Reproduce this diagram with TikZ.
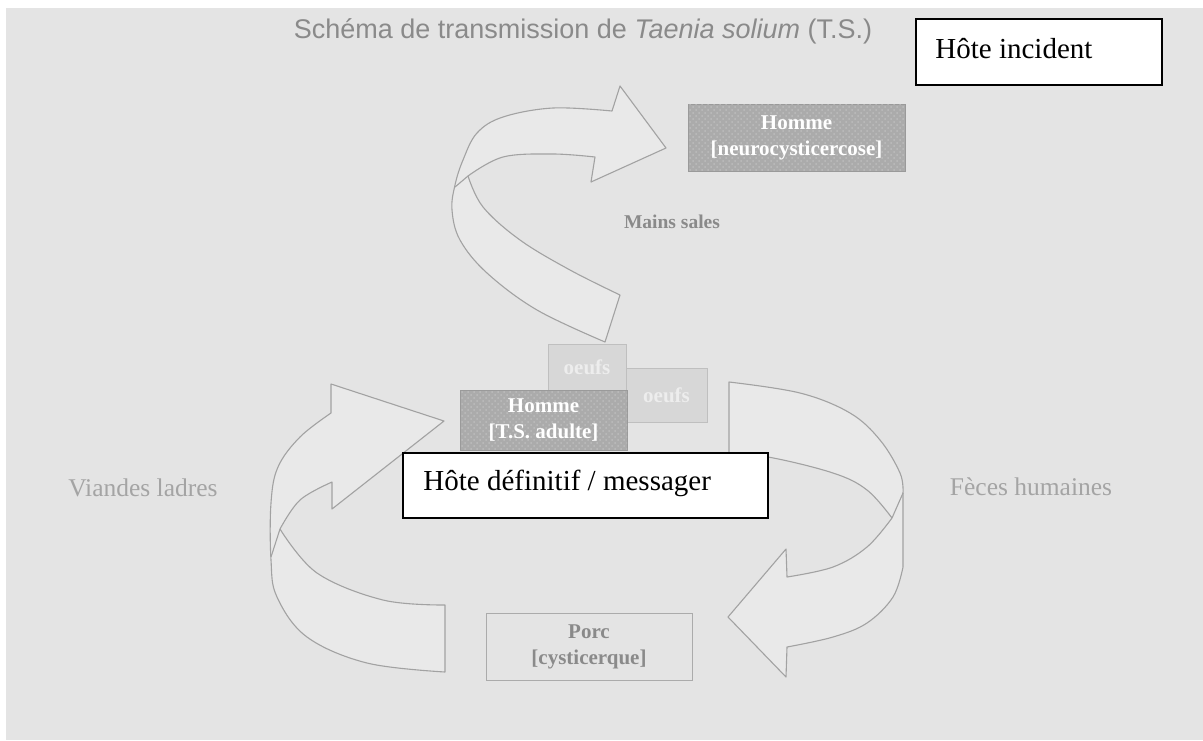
\documentclass[tikz,border=0pt]{standalone}
\usepackage{fontspec}
\setmainfont{Liberation Serif}
\newfontfamily\titresans{Liberation Sans}
\usetikzlibrary{patterns}
\definecolor{fond}{HTML}{E4E4E4}
\definecolor{trait}{HTML}{A2A2A2}
\definecolor{ruban}{HTML}{E9E9E9}
\definecolor{gristxt}{HTML}{8A8A8A}
\definecolor{clairtxt}{HTML}{A4A4A4}
\definecolor{hommegris}{HTML}{ABABAB}
\definecolor{pointgris}{HTML}{BDBDBD}
\definecolor{oeufgris}{HTML}{D7D7D7}
\tikzset{
  fleche/.style={draw=trait, fill=ruban, line width=0.55pt, line join=round},
  pli/.style={draw=trait, line width=0.55pt},
  hote/.style={draw=black, line width=1pt, fill=white},
  hotetxt/.style={font=\fontsize{14.5}{17}\selectfont, anchor=base west, inner sep=0pt},
  boitetxt/.style={font=\fontsize{10.5}{13}\selectfont\bfseries, align=center, inner sep=0pt},
  hommebox/.style={boitetxt, fill=hommegris, draw=hommegris!90!black, text=white,
    postaction={pattern=crosshatch dots, pattern color=pointgris}},
  oeufbox/.style={boitetxt, fill=oeufgris, draw=black!25, text=white!93!black},
  porcbox/.style={boitetxt, draw=black!33, text=gristxt},
  cote/.style={font=\fontsize{12.75}{15}\selectfont, text=clairtxt}
}
\begin{document}
\begin{tikzpicture}[x=0.5pt,y=-0.5pt]
  \useasboundingbox (0,0) rectangle (1203,740);
  \fill[white] (0,0) rectangle (1203,740);
  \fill[fond] (6,8) rectangle (1203,740);

  \node[font=\titresans\fontsize{13.5}{16}\selectfont, text=gristxt] (titre) at (583,31)
    {Schéma de transmission de \textit{Taenia solium} (T.S.)};

  \filldraw[fleche] plot[smooth,tension=0.6] coordinates {(605,342) (537,310) (487,273) (460,240) (452,210) (455,185) (463,160) (477,133) (503,117) (553,108) (612,111)}
    -- (620,86) -- (666,148) -- (591,182) -- (595,157)
    -- plot[smooth,tension=0.6] coordinates {(595,157) (553,154) (503,157) (468,176)}
    -- plot[smooth,tension=0.6] coordinates {(468,176) (483,207) (520,240) (570,270) (620,295)} -- cycle;
  \draw[pli] (468,176) -- (455,187);

  \filldraw[fleche] plot[smooth,tension=0.6] coordinates {(445,672) (367,663) (307,637) (277,597) (271,560) (271,503) (278,467) (300,437) (331,413)}
    -- (331,384) -- (444,421) -- (332,509) -- (332,482)
    -- plot[smooth,tension=0.6] coordinates {(332,482) (300,500) (280,529)}
    -- plot[smooth,tension=0.6] coordinates {(280,529) (317,573) (383,600) (445,605)} -- cycle;
  \draw[pli] (280,529) -- (271,557);

  \filldraw[fleche] (729,455) -- (729,382)
    -- plot[smooth,tension=0.6] coordinates {(729,382) (800,393) (850,413) (880,440) (900,473) (903,493)} -- (903,567)
    -- plot[smooth,tension=0.6] coordinates {(903,567) (893,597) (867,623) (833,637) (787,647)}
    -- (786,677) -- (728,617) -- (786,549) -- (787,577)
    -- plot[smooth,tension=0.6] coordinates {(787,577) (833,567) (867,547) (892,518)}
    -- plot[smooth,tension=0.6] coordinates {(892,518) (867,490) (833,473) (768,457) (729,455)} -- cycle;
  \draw[pli] (892,518) -- (903,493);

  \node[hommebox, minimum width=108.5pt, minimum height=33.5pt] (neuro) at (796.5,137.5) {Homme\\{}[neurocysticercose]};
  \node[font=\fontsize{9.75}{12}\selectfont\bfseries, text=gristxt] (mains) at (672,222) {Mains sales};

  \node[oeufbox, minimum width=39pt, minimum height=23pt] (oeufsA) at (587,367) {oeufs};
  \node[oeufbox, minimum width=40.5pt, minimum height=27pt] (oeufsB) at (666.5,395) {oeufs};
  \node[hommebox, minimum width=83.5pt, minimum height=30pt] (adulte) at (543.5,420) {Homme\\{}[T.S. adulte]};
  \node[porcbox, minimum width=103pt, minimum height=33.5pt] (porc) at (589,646.5) {Porc\\{}[cysticerque]};

  \node[cote] (viandes) at (143,488) {Viandes ladres};
  \node[cote] (feces) at (1031,487) {Fèces humaines};

  \node[hote, minimum width=123pt, minimum height=33pt] (incident) at (1039,52) {};
  \node[hotetxt] (incidenttxt) at (935,58) {Hôte incident};
  \node[hote, minimum width=182.5pt, minimum height=32.5pt] (definitif) at (585.5,485.5) {};
  \node[hotetxt] (definitiftxt) at (423,490) {Hôte définitif / messager};
\end{tikzpicture}
\end{document}
